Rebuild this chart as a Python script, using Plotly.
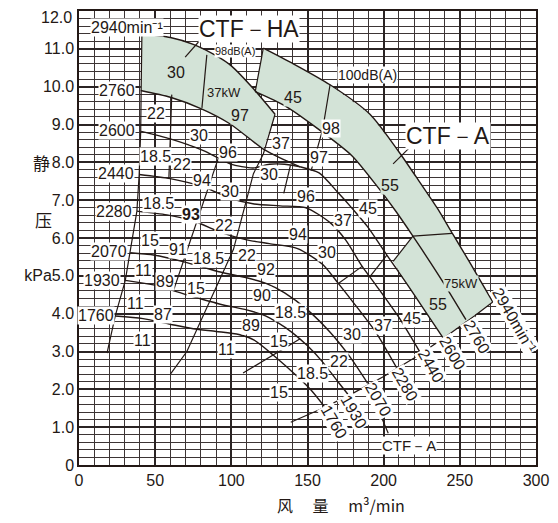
import plotly.graph_objects as go

# ---------------- data ----------------
c1760_q = [23.8, 42, 60, 75, 90, 105, 115, 127.6, 143, 153, 161]
c1760_p = [3.94, 3.87, 3.72, 3.60, 3.53, 3.45, 3.30, 2.90, 2.35, 1.95, 1.55]
c1930_q = [30.4, 48.9, 70.8, 92.7, 110, 120, 131, 140, 150, 160, 170, 176.5]
c1930_p = [4.88, 4.76, 4.50, 4.25, 4.10, 3.98, 3.75, 3.50, 3.15, 2.72, 2.20, 1.87]
c2070_q = [33.6, 48.9, 70.8, 92.7, 110, 122.8, 135, 150, 165, 178, 189.5]
c2070_p = [5.61, 5.55, 5.35, 5.10, 4.95, 4.80, 4.55, 4.10, 3.50, 2.85, 2.16]
c2280_q = [38, 57.7, 75.1, 95, 110, 125, 143.5, 160, 170.2, 180, 195, 208.5]
c2280_p = [6.71, 6.61, 6.45, 6.12, 5.95, 5.85, 5.72, 5.30, 4.80, 4.30, 3.50, 2.57]
c2440_q = [39.5, 59.9, 81.7, 99.2, 115, 132, 149, 165, 175, 185.9, 195, 210, 224]
c2440_p = [7.68, 7.57, 7.35, 7.05, 6.90, 6.85, 6.80, 6.40, 5.95, 5.25, 4.75, 3.90, 2.97]
c2600_q = [40.8, 59.9, 81.7, 99.2, 114.3, 125, 135, 145.2, 157.6, 170, 180, 189.4, 202.1, 215, 227, 239]
c2600_p = [8.82, 8.62, 8.31, 7.96, 7.85, 7.95, 7.95, 7.88, 7.72, 7.20, 6.75, 6.30, 5.55, 4.80, 4.08, 3.36]
ha2760_q = [40.5, 60, 80, 99, 121, 133, 145.2]
ha2760_p = [9.90, 9.72, 9.42, 9.02, 8.35, 8.10, 7.88]
ha2940_q = [41.3, 60, 75, 90, 100, 114.4, 128.7]
ha2940_p = [11.40, 11.30, 11.12, 10.82, 10.55, 9.95, 9.27]
a2940_q = [121, 140, 164.8, 191, 209.6, 221.6, 235, 245.4, 256.6, 271.6]
a2940_p = [11.02, 10.62, 10.05, 9.27, 8.30, 7.60, 6.80, 6.10, 5.35, 4.31]
a2760_q = [115.7, 135, 154.7, 179.3, 196.8, 208.1, 219.2, 230.4, 240.9, 254]
a2760_p = [9.87, 9.50, 8.95, 8.17, 7.31, 6.70, 6.05, 5.37, 4.71, 3.84]

left_q = [18.4, 23.8, 30.4, 33.6, 38, 39.5, 40.5, 40.8, 41.3]
left_p = [2.96, 3.94, 4.88, 5.61, 6.71, 7.68, 8.82, 9.90, 11.40]
right_q = [139, 160, 180, 200, 220, 240, 260, 271.6]
right_p = [1.13, 1.50, 1.90, 2.34, 2.83, 3.37, 3.95, 4.31]
l1_q = [62, 88.3, 91.3]
l1_p = [4.61, 7.70, 8.09]
l2_q = [60, 70.8, 101.4, 114.5, 121, 128.7]
l2_p = [2.40, 3.00, 5.70, 7.70, 8.22, 9.27]
aleft_q = [121, 115.7]
aleft_p = [11.02, 9.87]
# short kW boundary segments and leader lines
seg_lines = [
    ([83.9, 80.7], [10.84, 9.44]),
    ([60.9, 59.9, 59.0], [9.79, 8.66, 7.57]),
    ([107.7, 145.2], [2.43, 3.34]),
    ([189.7, 203.0], [2.10, 0.84]),
    ([80.6, 69.7], [11.28, 10.78]),
    ([218.5, 206.2], [8.45, 7.96]),
    ([164.8, 160.0, 152.4], [10.05, 8.88, 7.78]),
    ([138.8, 134.4], [7.92, 7.18]),
    ([170.2, 185.9], [4.80, 5.25]),
    ([191.0, 202.1], [4.98, 5.55]),
    ([206.2, 219.2], [5.38, 6.05]),
    ([219.2, 245.0], [6.05, 6.12]),
]

ha_area_q = ha2940_q + [121] + ha2760_q[:5][::-1]
ha_area_p = ha2940_p + [8.35] + ha2760_p[:5][::-1]
a_area_q = a2940_q + [239, 227, 215, 206.2, 219.2, 208.1, 196.8, 179.3, 154.7, 135, 115.7]
a_area_p = a2940_p + [3.36, 4.08, 4.80, 5.38, 6.05, 6.70, 7.31, 8.17, 8.95, 9.50, 9.87]

rpm_left = ["2940min⁻¹", "2760", "2600", "2440", "2280", "2070", "1930", "1760"]
rpm_left_q = [31.7, 25.1, 25.1, 24.5, 23.1, 19.9, 15.3, 11.3]
rpm_left_p = [11.57, 9.90, 8.85, 7.70, 6.71, 5.64, 4.88, 3.94]
rpm_end = ["1760", "1930", "2070", "2280", "2440", "2600", "2760", "2940min⁻¹"]
rpm_end_q = [167.1, 180.8, 196.3, 214.0, 231.3, 245.1, 261.5, 286.1]
rpm_end_p = [1.14, 1.40, 1.72, 2.13, 2.61, 2.94, 3.38, 3.83]

lab_txt = ["22", "30", "96", "18.5", "22", "94", "30", "37", "30", "98", "97",
           "96", "45", "37", "94", "30", "45", "37", "30", "18.5", "15", "92", "90",
           "89", "22", "18.5", "22", "18.5", "15", "91", "11", "89", "15", "11",
           "87", "11", "11", "18.5", "22", "15", "93"]
lab_q = [50.7, 78.9, 97.9, 50.2, 67.9, 81.0, 99.2, 132.7, 124.8, 165.4, 157.6,
         149.1, 189.4, 173.0, 143.5, 162.8, 218.9, 199.8, 179.5, 138.6, 131.0, 122.8, 120.2,
         113.0, 110.4, 85.1, 95.3, 52.3, 46.8, 64.8, 42.5, 56.6, 76.9, 36.9,
         55.0, 41.8, 96.7, 153.0, 170.4, 131.0, 73.6]
lab_p = [9.30, 8.72, 8.25, 8.15, 7.94, 7.52, 7.23, 8.51, 7.68, 8.90, 8.13,
         7.10, 6.79, 6.46, 6.08, 5.61, 3.86, 3.68, 3.46, 4.02, 3.26, 5.16, 4.48,
         3.68, 5.55, 5.46, 6.34, 6.92, 5.93, 5.70, 5.14, 4.86, 4.67, 4.26,
         3.97, 3.29, 3.05, 2.43, 2.74, 1.91, 6.63]
sh_txt = ["30", "37kW", "97", "45", "55", "75kW", "55"]
sh_q = [63.8, 95.3, 105.8, 140.5, 204.1, 250.7, 235.9]
sh_p = [10.38, 9.84, 9.24, 9.71, 7.40, 4.80, 4.23]

yticks = [0, 1, 2, 3, 4, 5, 6, 7, 8, 9, 10, 11]
ytick_text = ["0", "1.0", "2.0", "3.0", "4.0", "kPa5.0", "6.0", "7.0", "8.0", "9.0", "10.0", "11.0"]
xticks = [0, 50, 100, 150, 200, 250, 300]

# ---------------- figure ----------------
INK = "#231815"
SHADE = "#d3e3d7"
FONT = "Liberation Sans, Arial, sans-serif"
fig = go.Figure()

fig.add_trace(go.Scatter(x=ha_area_q, y=ha_area_p, fill="toself", fillcolor=SHADE,
                         line=dict(width=0), mode="lines", hoverinfo="skip"))
fig.add_trace(go.Scatter(x=a_area_q, y=a_area_p, fill="toself", fillcolor=SHADE,
                         line=dict(width=0), mode="lines", hoverinfo="skip"))

curves = [(c1760_q, c1760_p), (c1930_q, c1930_p), (c2070_q, c2070_p), (c2280_q, c2280_p),
          (c2440_q, c2440_p), (c2600_q, c2600_p), (ha2760_q, ha2760_p), (ha2940_q, ha2940_p),
          (a2940_q, a2940_p), (a2760_q, a2760_p)]
for q, p in curves:
    fig.add_trace(go.Scatter(x=q, y=p, mode="lines",
                             line=dict(color=INK, width=1.4, shape="spline", smoothing=0.7)))
for q, p in [(left_q, left_p), (right_q, right_p), (l1_q, l1_p), (l2_q, l2_p), (aleft_q, aleft_p)] + seg_lines:
    fig.add_trace(go.Scatter(x=q, y=p, mode="lines", line=dict(color=INK, width=1.2)))

def ann(t, q, p, size=16, bg="white", angle=0, family=FONT):
    fig.add_annotation(x=q, y=p, text=t, showarrow=False, textangle=angle,
                       font=dict(family=family, size=size, color=INK), bgcolor=bg, borderpad=0)

for t, q, p in zip(rpm_left, rpm_left_q, rpm_left_p):
    ann(t, q, p, size=16)
for t, q, p in zip(rpm_end, rpm_end_q, rpm_end_p):
    ann(t, q, p, size=16, angle=60)
for t, q, p in zip(lab_txt, lab_q, lab_p):
    ann("<b>93</b>" if t == "93" else t, q, p, size=16)
for t, q, p in zip(sh_txt, sh_q, sh_p):
    ann(t, q, p, size=13 if "kW" in t else 16, bg=SHADE)
ann("98dB(A)", 102.5, 10.95, size=11)
ann("100dB(A)", 189.4, 10.31, size=14)
ann("CTF－HA", 111.7, 11.53, size=23)
ann("CTF－A", 242.5, 8.69, size=23)
ann("CTF－A", 216.9, 0.52, size=15)

fig.add_annotation(xref="paper", yref="y", x=-0.01, y=11.83, xanchor="right", yanchor="middle",
                   text="12.0", showarrow=False, font=dict(family=FONT, size=16, color=INK))
fig.add_annotation(xref="paper", yref="y", x=-0.105, y=8, text="静", showarrow=False,
                   font=dict(family="Noto Sans CJK SC", size=17, color=INK))
fig.add_annotation(xref="paper", yref="y", x=-0.100, y=6.5, text="压", showarrow=False,
                   font=dict(family="Noto Sans CJK SC", size=17, color=INK))
fig.add_annotation(xref="paper", yref="paper", x=0.574, xanchor="center", y=-0.088, yanchor="middle",
                   text="风　 量　 m³/min", showarrow=False,
                   font=dict(family="Noto Sans CJK SC", size=16, color=INK))

fig.update_layout(
    width=558, height=523, margin=dict(l=79, r=22, t=9, b=58),
    paper_bgcolor="white", plot_bgcolor="white", showlegend=False,
    font=dict(family=FONT, size=16, color=INK),
)
fig.update_xaxes(range=[0, 300], tickvals=xticks, showline=True, linecolor=INK, linewidth=1.5, mirror=True,
                 showgrid=True, gridcolor="#2b2424", gridwidth=1.6, zeroline=False, ticks="",
                 minor=dict(dtick=10, showgrid=True, gridcolor="#3d3535", gridwidth=1),
                 tickfont=dict(size=16))
fig.update_yaxes(range=[0, 12], tickvals=yticks, ticktext=ytick_text, showline=True, linecolor=INK,
                 linewidth=1.5, mirror=True, showgrid=True, gridcolor="#2b2424", gridwidth=1.6,
                 zeroline=False, ticks="", minor=dict(dtick=0.2, showgrid=True, gridcolor="#3d3535", gridwidth=1),
                 tickfont=dict(size=16))
fig.write_html("out.html", config={"displayModeBar": False},
               post_script="document.body.style.margin='0px';document.body.style.overflow='hidden';")
